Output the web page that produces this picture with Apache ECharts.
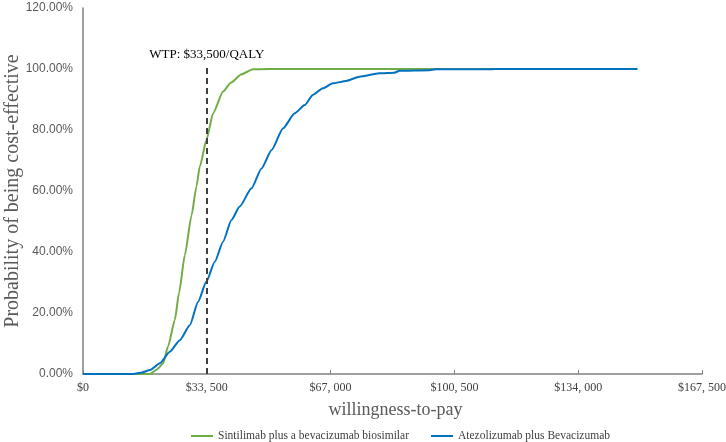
<!DOCTYPE html>
<html>
<head>
<meta charset="utf-8">
<script src="https://cdn.jsdelivr.net/npm/echarts@6/dist/echarts.min.js"></script>
<style>
  html, body { margin: 0; padding: 0; background: #fff; }
  #chart { width: 726px; height: 442px; }
</style>
</head>
<body>
<div id="chart"></div>
<script>
// willingness-to-pay values ($) and probability (%)
const sintiWtp = [0, 10000, 16000, 18100, 20000, 21700, 23000, 24850, 26000, 27560, 29370, 30700, 31600, 33400, 35200, 37900, 40000, 42900, 46000, 50000, 60000, 80000, 100000, 120000, 150000];
const sintiProb = [0, 0, 0, 0, 1.5, 3.5, 9, 17.7, 26.7, 39, 52, 61.5, 68, 76.7, 85.5, 92.6, 95.5, 98.3, 99.9, 100, 100, 100, 100, 100, 100];

const atezoWtp = [0, 10000, 13600, 16000, 18100, 20800, 23500, 26200, 28900, 31150, 33400, 35660, 37900, 40170, 42400, 45600, 48300, 51000, 54100, 57300, 60000, 62200, 64900, 67600, 71200, 74800, 80200, 84300, 85600, 93700, 95500, 109000, 111700, 130000, 150000];
const atezoProb = [0, 0, 0, 0.5, 1.3, 3.5, 7.3, 11.1, 16, 23.7, 30.3, 36.8, 43.4, 50.5, 54.9, 60.9, 67.4, 73.4, 80.5, 85.5, 88.2, 91.5, 93.7, 95.3, 96.1, 97.5, 98.6, 98.8, 99.4, 99.6, 99.9, 99.9, 100, 100, 100];

const xTicks = ['$0', '$33, 500', '$67, 000', '$100, 500', '$134, 000', '$167, 500'];
const wtpLine = 33500;

const pairs = (xs, ys) => xs.map((x, i) => [x, ys[i]]);

const chart = echarts.init(document.getElementById('chart'));

const option = {
  animation: false,
  grid: {
    left: 83,
    right: 24,
    top: 8,
    bottom: 68,
    containLabel: false,
    outerBoundsMode: 'none'
  },
  legend: {
    bottom: -5,
    left: 186,
    itemGap: 22,
    itemWidth: 22,
    itemHeight: 2,
    icon: 'rect',
    textStyle: {
      fontFamily: 'Liberation Serif',
      fontSize: 11.5,
      color: '#404040'
    },
    data: ['Sintilimab plus a bevacizumab biosimilar', 'Atezolizumab plus Bevacizumab']
  },
  xAxis: {
    type: 'value',
    min: 0,
    max: 167500,
    interval: 33500,
    name: 'willingness-to-pay',
    nameLocation: 'middle',
    nameGap: 27,
    nameTextStyle: {
      fontFamily: 'Liberation Serif',
      fontSize: 18,
      color: '#595959',
      padding: [0, 0, 0, 6]
    },
    axisLine: { lineStyle: { color: '#808080', width: 1.5 } },
    axisTick: { show: true, inside: true, length: 4, lineStyle: { color: '#808080' } },
    splitLine: { show: false },
    axisLabel: {
      margin: 8,
      fontFamily: 'Liberation Serif',
      fontSize: 12,
      color: '#404040',
      formatter: function (v) {
        return xTicks[Math.round(v / 33500)];
      }
    }
  },
  yAxis: {
    type: 'value',
    min: 0,
    max: 120,
    interval: 20,
    name: 'Probability of being cost-effective',
    nameLocation: 'middle',
    nameGap: 60,
    nameMoveOverlap: false,
    nameTextStyle: {
      fontFamily: 'Liberation Serif',
      fontSize: 20,
      color: '#595959'
    },
    axisLine: { show: true, lineStyle: { color: '#808080', width: 1.5 } },
    axisTick: { show: false },
    splitLine: { show: false },
    axisLabel: {
      margin: 10,
      fontFamily: 'Liberation Sans',
      fontSize: 12,
      color: '#595959',
      formatter: function (v) {
        return v.toFixed(2) + '%';
      }
    }
  },
  series: [
    {
      name: 'Sintilimab plus a bevacizumab biosimilar',
      type: 'line',
      data: pairs(sintiWtp, sintiProb),
      showSymbol: false,
      smooth: 0.2,
      smoothMonotone: 'x',
      color: '#70AD47',
      lineStyle: { width: 2, color: '#70AD47' },
      z: 2
    },
    {
      name: 'Atezolizumab plus Bevacizumab',
      type: 'line',
      data: pairs(atezoWtp, atezoProb),
      showSymbol: false,
      smooth: 0.2,
      smoothMonotone: 'x',
      color: '#0070C0',
      lineStyle: { width: 2, color: '#0070C0' },
      z: 3,
      markLine: {
        silent: true,
        symbol: 'none',
        lineStyle: { type: [6, 4], color: '#404040', width: 2 },
        label: {
          show: true,
          position: 'end',
          formatter: 'WTP: $33,500/QALY',
          fontFamily: 'Liberation Serif',
          fontSize: 13,
          color: '#000',
          distance: 3
        },
        data: [[
          { coord: [wtpLine, 0] },
          { coord: [wtpLine, 101.6] }
        ]]
      }
    }
  ]
};

chart.setOption(option);
</script>
</body>
</html>
